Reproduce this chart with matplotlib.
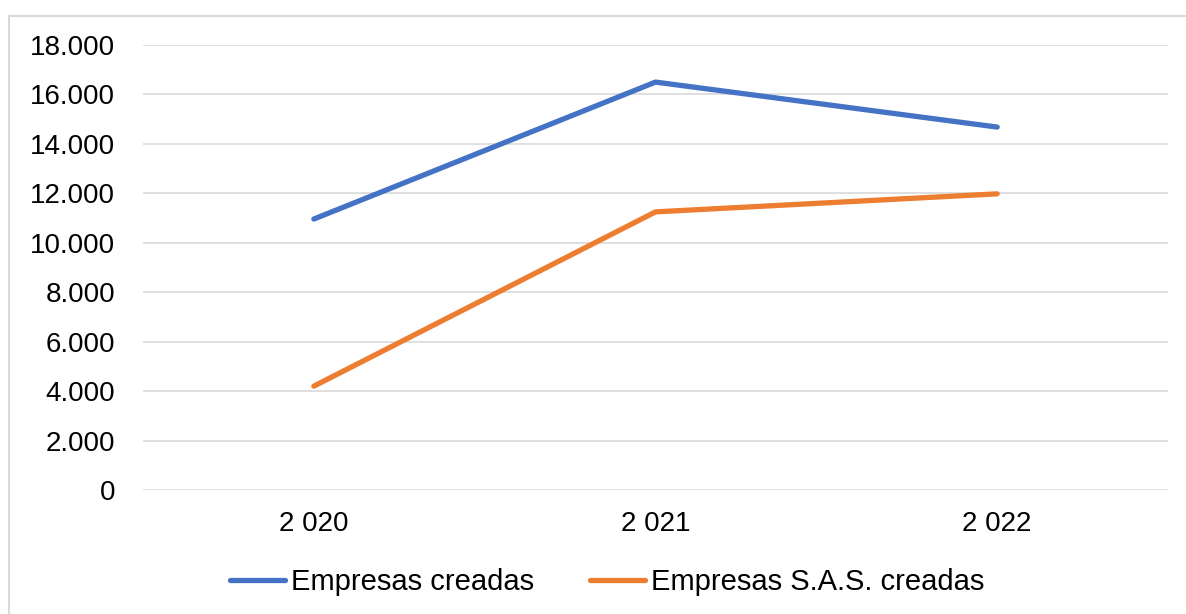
import matplotlib
matplotlib.use("Agg")
import matplotlib.pyplot as plt
from matplotlib.patches import Rectangle

years = ['2 020', '2 021', '2 022']
empresas = [10960, 16500, 14680]
empresas_sas = [4200, 11250, 11980]
yticks = [0, 2000, 4000, 6000, 8000, 10000, 12000, 14000, 16000, 18000]

plt.rcParams['font.family'] = ['Liberation Sans', 'DejaVu Sans']

W, H = 1186, 614
fig = plt.figure(figsize=(W / 100, H / 100), dpi=100)
ax = fig.add_axes([143 / W, 1 - 490 / H, (1168 - 143) / W, (490 - 45) / H])

# chart border (only top/left visible in the crop)
fig.patches.append(Rectangle((9 / W, -0.1), 1.2, 1 - 16 / H + 0.1,
                             transform=fig.transFigure, fill=False,
                             edgecolor='#d9d9d9', linewidth=1.5))

x = range(len(years))
ax.plot(x, empresas, color='#4472C4', linewidth=3.8, label='Empresas creadas',
        solid_capstyle='round', zorder=3)
ax.plot(x, empresas_sas, color='#ED7D31', linewidth=3.8, label='Empresas S.A.S. creadas',
        solid_capstyle='round', zorder=3)

ax.set_xlim(-0.5, len(years) - 0.5)
ax.set_ylim(0, 18000)
ax.set_yticks(yticks)
ax.set_yticklabels([f'{v:,}'.replace(',', '.') for v in yticks])
ax.set_xticks(list(x))
ax.set_xticklabels(years)
ax.grid(axis='y', color='#d9d9d9', linewidth=1.2)
ax.set_axisbelow(True)
for s in ax.spines.values():
    s.set_visible(False)
ax.tick_params(axis='both', length=0, labelsize=20, colors='#000000')
ax.tick_params(axis='y', pad=20)
ax.tick_params(axis='x', pad=15)

fig.legend(loc='center', bbox_to_anchor=(607 / W, 1 - 582 / H), ncol=2, frameon=False,
           fontsize=21, handlelength=1.9, handletextpad=0.2, columnspacing=1.9)

fig.savefig('out.png', dpi=100)
